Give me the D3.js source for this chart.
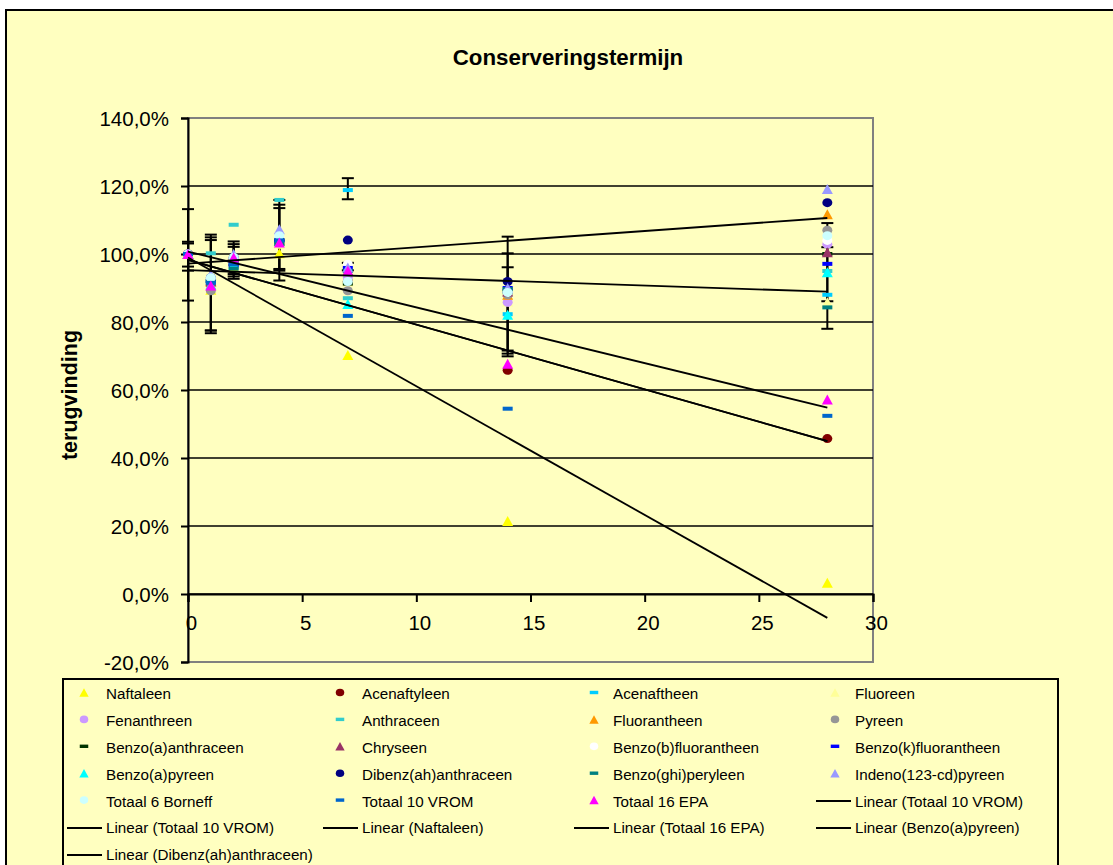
<!DOCTYPE html>
<html><head><meta charset="utf-8">
<script src="https://cdn.jsdelivr.net/npm/d3@7"></script>
<style>
html,body{margin:0;padding:0;background:#fff;}
svg{display:block;font-family:Arial,"Liberation Sans",sans-serif;}
</style></head>
<body>
<svg id="c" width="1113" height="865"></svg>
<script>
// ---- DATA ----
const xValues = [0, 1, 2, 4, 7, 14, 28];
const xTicks = [0, 5, 10, 15, 20, 25, 30];
const yTicks = [-20, 0, 20, 40, 60, 80, 100, 120, 140];

const seriesNames = ["Naftaleen","Acenaftyleen","Acenaftheen","Fluoreen","Fenanthreen","Anthraceen",
  "Fluorantheen","Pyreen","Benzo(a)anthraceen","Chryseen","Benzo(b)fluorantheen","Benzo(k)fluorantheen",
  "Benzo(a)pyreen","Dibenz(ah)anthraceen","Benzo(ghi)peryleen","Indeno(123-cd)pyreen",
  "Totaal 6 Borneff","Totaal 10 VROM","Totaal 16 EPA"];
const seriesColors = ["#FFFF00","#800000","#00CCFF","#FFFF99","#CC99FF","#33CCCC",
  "#FF9900","#969696","#003300","#993366","#FFFFFF","#0000FF",
  "#00FFFF","#000080","#008080","#9999FF",
  "#CCFFFF","#0066CC","#FF00FF"];
const seriesMarkers = ["triangle","circle","dash","triangle","circle","dash",
  "triangle","circle","dash","triangle","circle","dash",
  "triangle","circle","dash","triangle","circle","dash","triangle"];

// recovery (%) at xValues
const naftaleen      = [100, 89.5, 96.0, 100.2, 70.3, 21.5, 3.3];
const acenaftyleen   = [100, 91.0, 97.0, 103.0, 92.0, 65.8, 45.7];
const acenaftheen    = [100, 92.0, 97.0, 104.0, 118.8, 82.3, 88.0];
const fluoreen       = [100, 91.0, 97.0, 103.0, 92.0, 86.0, 85.8];
const fenanthreen    = [100, 91.5, 98.0, 104.0, 93.0, 85.8, 102.9];
const anthraceen     = [100, 100.2, 108.6, 115.9, 87.0, 89.0, 95.0];
const fluorantheen   = [100, 92.0, 98.0, 104.0, 95.0, 88.0, 111.7];
const pyreen         = [100, 89.2, 97.0, 104.0, 89.2, 88.0, 107.0];
const benzoAAnthr    = [100, 92.0, 98.0, 104.0, 91.3, 89.0, 100.0];
const chryseen       = [100, 92.0, 98.0, 104.0, 95.0, 89.0, 100.5];
const benzoBFluor    = [100, 93.0, 99.0, 105.0, 97.0, 89.0, 104.0];
const benzoKFluor    = [100, 92.0, 96.6, 104.0, 95.9, 90.0, 97.1];
const benzoAPyreen   = [100, 91.0, 97.0, 104.0, 85.3, 82.1, 94.6];
const dibenzAhAnthr  = [100, 93.0, 99.0, 104.0, 104.1, 91.9, 115.1];
const benzoGhiPeryl  = [100, 92.0, 95.7, 103.0, 95.0, 89.7, 84.3];
const indeno         = [100, 94.0, 100.0, 107.3, 96.0, 90.0, 119.1];
const totaal6        = [100, 93.0, 99.0, 105.4, 91.9, 88.7, 105.4];
const totaal10       = [100, 91.5, 97.0, 104.0, 81.8, 54.5, 52.4];
const totaal16       = [100, 90.7, 99.0, 103.4, 95.1, 67.7, 57.2];

const seriesValues = [naftaleen, acenaftyleen, acenaftheen, fluoreen, fenanthreen, anthraceen,
  fluorantheen, pyreen, benzoAAnthr, chryseen, benzoBFluor, benzoKFluor,
  benzoAPyreen, dibenzAhAnthr, benzoGhiPeryl, indeno, totaal6, totaal10, totaal16];

// error bars (x, low %, high %)
const errX    = [0, 0, 0, 1, 1, 1, 2, 2, 2, 4, 4, 4, 7, 7, 14, 14, 14, 28, 28];
const errLow  = [86.3, 96.3, 95.1, 77.5, 76.7, 77.5, 92.7, 93.4, 94.1, 92.2, 95.1, 95.6, 116.1, 95.2, 69.9, 70.7, 71.6, 78.0, 86.1];
const errHigh = [113.2, 103.6, 103.1, 105.7, 104.9, 104.1, 103.7, 102.9, 102.1, 115.9, 114.5, 113.5, 122.3, 97.4, 105.1, 100.2, 96.1, 109.1, 102.0];

// linear trendlines (series they belong to)
const trendSeries = ["Totaal 10 VROM","Totaal 10 VROM","Naftaleen","Totaal 16 EPA","Benzo(a)pyreen","Dibenz(ah)anthraceen"];

// ---- CHART ----
const svg = d3.select("#c");
const bg = "#FFFFC0";
const L = 188, R = 873, T = 118, B = 662;

svg.append("rect").attr("x", 6).attr("y", 10).attr("width", 1200).attr("height", 1000)
  .attr("fill", bg).attr("stroke", "#000").attr("stroke-width", 2);

const x = d3.scaleLinear().domain([0, 30]).range([L, R]);
const y = d3.scaleLinear().domain([-20, 140]).range([B, T]);

// plot area
svg.append("rect").attr("x", L).attr("y", T).attr("width", R - L).attr("height", B - T)
  .attr("fill", bg).attr("stroke", "#808080").attr("stroke-width", 2);

// gridlines
svg.append("g").selectAll("line").data(yTicks.filter(v => v > -20 && v < 140)).join("line")
  .attr("x1", L).attr("x2", R).attr("y1", d => y(d)).attr("y2", d => y(d))
  .attr("stroke", "#000").attr("stroke-width", 1.6);

// y axis
const yAxis = d3.axisLeft(y).tickValues(yTicks).tickSize(7)
  .tickFormat(d => d3.format(".1f")(d).replace(".", ",").replace("\u2212", "-") + "%");
const gy = svg.append("g").attr("transform", `translate(${L},0)`).call(yAxis);
gy.select(".domain").attr("stroke", "#000").attr("stroke-width", 2);
gy.selectAll(".tick line").attr("stroke", "#000").attr("stroke-width", 2);
gy.selectAll(".tick text").attr("font-size", 20.5).attr("fill", "#000").attr("x", -19).attr("dy", "0.36em")
  .attr("font-family", "Arial, 'Liberation Sans', sans-serif");

// x axis at y = 0
const xAxis = d3.axisBottom(x).tickValues(xTicks).tickSize(8).tickFormat(d3.format("d"));
const gx = svg.append("g").attr("transform", `translate(0,${y(0)})`).call(xAxis);
gx.select(".domain").attr("stroke", "#000").attr("stroke-width", 2);
gx.selectAll(".tick line").attr("stroke", "#000").attr("stroke-width", 2);
gx.selectAll(".tick text").attr("font-size", 20.5).attr("fill", "#000").attr("y", 29).attr("dx", 3).attr("dy", "0.36em")
  .attr("font-family", "Arial, 'Liberation Sans', sans-serif");

// error bars
const eb = svg.append("g").attr("stroke", "#000").attr("stroke-width", 2);
errX.forEach((ex, i) => {
  const cx = x(ex);
  eb.append("line").attr("x1", cx).attr("x2", cx).attr("y1", y(errLow[i])).attr("y2", y(errHigh[i]));
  [errLow[i], errHigh[i]].forEach(v => {
    eb.append("line").attr("x1", cx - 6).attr("x2", cx + 6).attr("y1", y(v)).attr("y2", y(v));
  });
});

// markers
function drawMarker(g, type, color, cx, cy, s) {
  if (type === "triangle") {
    const w = 5.5 * s, h = 10 * s;
    g.append("path").attr("d", `M${cx},${cy - h / 2}L${cx + w},${cy + h / 2}L${cx - w},${cy + h / 2}Z`).attr("fill", color);
  } else if (type === "circle") {
    g.append("ellipse").attr("cx", cx).attr("cy", cy).attr("rx", 5 * s).attr("ry", 4.5 * s).attr("fill", color);
  } else {
    g.append("rect").attr("x", cx - 5 * s).attr("y", cy - 2 * s).attr("width", 10 * s).attr("height", 4 * s).attr("fill", color);
  }
}
const mg = svg.append("g");
seriesValues.forEach((vals, si) => {
  vals.forEach((v, j) => drawMarker(mg, seriesMarkers[si], seriesColors[si], x(xValues[j]), y(v), 1));
});

// trendlines (least squares from data)
function linReg(xs, ys) {
  const mx = d3.mean(xs), my = d3.mean(ys);
  let sxy = 0, sxx = 0;
  xs.forEach((xv, i) => { sxy += (xv - mx) * (ys[i] - my); sxx += (xv - mx) ** 2; });
  const b = sxy / sxx;
  return [my - b * mx, b];
}
const tg = svg.append("g");
const xMin = d3.min(xValues), xMax = d3.max(xValues);
trendSeries.forEach(name => {
  const vals = seriesValues[seriesNames.indexOf(name)];
  const [a, b] = linReg(xValues, vals);
  tg.append("line").attr("x1", x(xMin)).attr("y1", y(a + b * xMin))
    .attr("x2", x(xMax)).attr("y2", y(a + b * xMax))
    .attr("stroke", "#000").attr("stroke-width", 1.8);
});

// title
svg.append("text").attr("x", 568).attr("y", 65).attr("text-anchor", "middle")
  .attr("font-size", 22.3).attr("font-weight", "bold").text("Conserveringstermijn");
svg.append("text").attr("transform", "translate(77,395) rotate(-90)").attr("text-anchor", "middle")
  .attr("font-size", 21.5).attr("font-weight", "bold").text("terugvinding");

// legend
svg.append("rect").attr("x", 63).attr("y", 679).attr("width", 995).attr("height", 400)
  .attr("fill", bg).attr("stroke", "#000").attr("stroke-width", 2);
const legendEntries = seriesNames.map((n, i) => ({label: n, type: seriesMarkers[i], color: seriesColors[i]}))
  .concat(trendSeries.map(n => ({label: "Linear (" + n + ")", type: "line"})));
const colMarker = [84, 340, 594, 835];
const colText = [106, 362, 613, 855];
const lg = svg.append("g");
legendEntries.forEach((e, i) => {
  const c = i % 4, r = Math.floor(i / 4);
  const cy = 693.5 + r * 26.9;
  if (e.type === "line") {
    lg.append("line").attr("x1", colText[c] - 39).attr("x2", colText[c] - 4).attr("y1", cy).attr("y2", cy)
      .attr("stroke", "#000").attr("stroke-width", 2);
  } else {
    drawMarker(lg, e.type, e.color, colMarker[c], cy - 1, 0.85);
  }
  lg.append("text").attr("x", colText[c]).attr("y", cy).attr("dy", "0.36em")
    .attr("font-size", 15.2).attr("fill", "#000").text(e.label);
});
</script>
</body></html>
